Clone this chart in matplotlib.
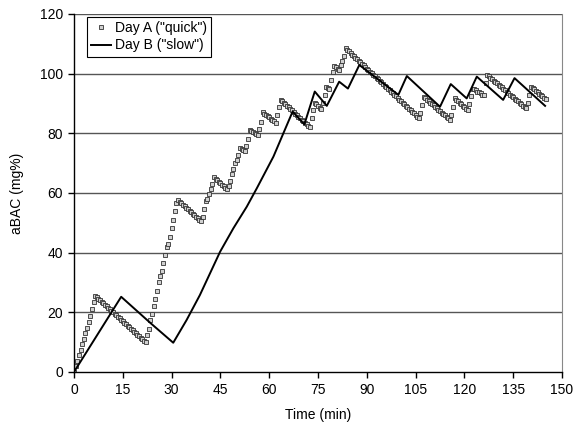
"""Apparent BAC over time for two drinking days (quick vs slow)."""

import matplotlib

matplotlib.use("Agg")
import matplotlib.pyplot as plt
import numpy as np

plt.rcParams["font.family"] = ["Liberation Sans", "DejaVu Sans"]

# Day A ("quick"): aBAC sampled every 30 s from t = 0 to 145 min
DAY_A_BAC = [
    # 0 - 6.5 min
    0.0, 1.9, 3.8, 5.7, 7.5, 9.4, 11.2, 13.0, 14.8, 16.7, 18.8, 21.2, 23.6, 25.5,
    # 7 - 22
    25.0, 24.5, 24.0, 23.5, 23.0, 22.5, 22.0, 21.5, 21.0, 20.5, 20.0, 19.5,
    19.0, 18.5, 18.0, 17.5, 17.0, 16.5, 16.0, 15.5, 15.0, 14.5, 14.0, 13.5,
    13.0, 12.5, 12.0, 11.5, 11.0, 10.5, 10.0,
    # 22.5 - 31.5
    12.4, 14.5, 17.5, 19.5, 22.0, 24.5, 27.2, 30.0, 32.2, 34.0, 36.4, 39.2,
    42.0, 42.8, 45.4, 48.2, 51.0, 53.8, 56.8,
    # 32 - 39
    57.6, 57.1, 56.6, 56.1, 55.6, 55.1, 54.6, 54.0, 53.5, 53.0, 52.5, 52.0,
    51.5, 51.0, 50.5,
    # 39.5 - 43
    52.0, 54.5, 57.3, 58.0, 59.6, 61.2, 63.0, 65.2,
    # 43.5 - 47
    64.7, 64.2, 63.7, 63.2, 62.7, 62.2, 61.7, 61.2,
    # 47.5 - 51
    62.4, 64.0, 66.2, 68.2, 69.9, 71.0, 72.6, 75.2,
    # 51.5 - 54
    74.9, 74.5, 74.1, 75.8, 78.0, 81.1,
    # 54.5 - 58
    80.7, 80.4, 80.0, 79.7, 79.4, 81.4, 83.8, 87.0,
    # 58.5 - 62
    86.6, 86.2, 85.7, 85.3, 84.9, 84.5, 84.0, 83.6,
    # 62.5 - 63.5
    86.2, 88.7, 91.2,
    # 64 - 72.5
    90.7, 90.2, 89.7, 89.2, 88.7, 88.2, 87.7, 87.2, 86.6, 86.1, 85.6, 85.1,
    84.6, 84.1, 83.6, 83.1, 82.6, 82.1,
    # 73 - 79
    85.0, 87.8, 90.3, 89.7, 89.1, 88.5, 88.0, 90.3, 93.0, 95.6, 95.3, 95.0,
    98.0,
    # 79.5 - 83.5
    100.5, 102.6, 102.2, 101.7, 101.2, 102.8, 104.2, 105.8, 108.5,
    # 84 - 106
    108.0, 107.5, 106.9, 106.4, 105.9, 105.4, 104.9, 104.3, 103.8, 103.3,
    102.8, 102.3, 101.7, 101.2, 100.7, 100.2, 99.7, 99.1, 98.6, 98.1, 97.6,
    97.1, 96.5, 96.0, 95.5, 95.0, 94.5, 93.9, 93.4, 92.9, 92.4, 91.9, 91.3,
    90.8, 90.3, 89.8, 89.3, 88.7, 88.2, 87.7, 87.2, 86.7, 86.1, 85.6, 85.1,
    # 106.5 - 107.5
    86.9, 89.5, 92.3,
    # 108 - 115.5
    91.8, 91.3, 90.8, 90.3, 89.9, 89.4, 88.9, 88.4, 87.9, 87.4, 86.9, 86.4,
    86.0, 85.5, 85.0, 84.6,
    # 116 - 122.5
    86.2, 88.7, 91.7, 91.2, 90.8, 90.3, 89.8, 89.3, 88.8, 88.3, 87.8, 89.8,
    92.5, 95.0,
    # 123 - 127
    94.7, 94.4, 94.0, 93.7, 93.4, 93.0, 92.7, 96.7, 99.6,
    # 127.5 - 139
    99.1, 98.7, 98.2, 97.7, 97.3, 96.8, 96.3, 95.9, 95.4, 94.9, 94.4, 94.0,
    93.5, 93.0, 92.6, 92.1, 91.6, 91.2, 90.7, 90.2, 89.8, 89.3, 88.8, 88.4,
    # 139.5 - 145
    90.3, 92.9, 95.6, 95.1, 94.7, 94.2, 93.8, 93.3, 92.9, 92.4, 92.0, 91.5,
]
DAY_A_STEP_MIN = 0.5

# Day B ("slow"): turning points of the curve
DAY_B_TIME = [0, 14.5, 23.4, 30.5, 34.6, 38.7, 44.9, 49.0, 53.1, 56.2, 61.3,
              67.2, 70.8, 74.0, 77.7, 81.5, 84.2, 87.7, 99.7, 102.3, 112.5,
              115.8, 120.7, 123.8, 131.9, 135.4, 144.8]
DAY_B_BAC = [0, 25.2, 16.5, 9.8, 17.4, 25.8, 40.3, 48.2, 55.4, 61.6, 72.2,
             87.3, 83.0, 94.0, 89.2, 97.3, 95.0, 102.9, 92.9, 99.2, 88.9,
             96.5, 91.7, 99.0, 91.2, 98.5, 89.2]

X_TICKS = list(range(0, 151, 15))
Y_TICKS = list(range(0, 121, 20))


def main() -> None:
    day_a_time = DAY_A_STEP_MIN * np.arange(len(DAY_A_BAC))

    fig = plt.figure(figsize=(5.8, 4.34), dpi=100)
    ax = fig.add_axes([0.1276, 0.1429, 0.8414, 0.8249])

    for y in Y_TICKS[1:]:
        ax.axhline(y, color="#555555", lw=1.0, zorder=1)

    ax.plot(day_a_time, DAY_A_BAC, ls="none", marker="s", ms=3.5,
            mfc="#d0d0d0", mec="#333333", mew=0.6, zorder=2,
            label='Day A ("quick")')
    ax.plot(DAY_B_TIME, DAY_B_BAC, color="black", lw=1.4, zorder=3,
            label='Day B ("slow")')

    ax.set_xlim(0, 150)
    ax.set_ylim(0, 120)
    ax.set_xticks(X_TICKS)
    ax.set_yticks(Y_TICKS)
    ax.tick_params(direction="out", length=4, width=1, labelsize=10,
                   colors="black", pad=4)

    for side in ("left", "bottom"):
        ax.spines[side].set_color("black")
        ax.spines[side].set_linewidth(1.0)
    ax.spines["right"].set_color("#888888")
    ax.spines["top"].set_visible(False)

    ax.set_xlabel("Time (min)", fontsize=10, labelpad=8)
    ax.set_ylabel("aBAC (mg%)", fontsize=10, labelpad=11)

    leg = ax.legend(loc="upper left", bbox_to_anchor=(0.027, 0.992),
                    borderaxespad=0, fancybox=False, fontsize=10,
                    handlelength=1.4, handletextpad=0.3, borderpad=0.3,
                    labelspacing=0.25, framealpha=1)
    leg.get_frame().set_edgecolor("black")
    leg.get_frame().set_linewidth(0.8)

    fig.savefig("out.png", dpi=100)
    plt.close(fig)


if __name__ == "__main__":
    main()
